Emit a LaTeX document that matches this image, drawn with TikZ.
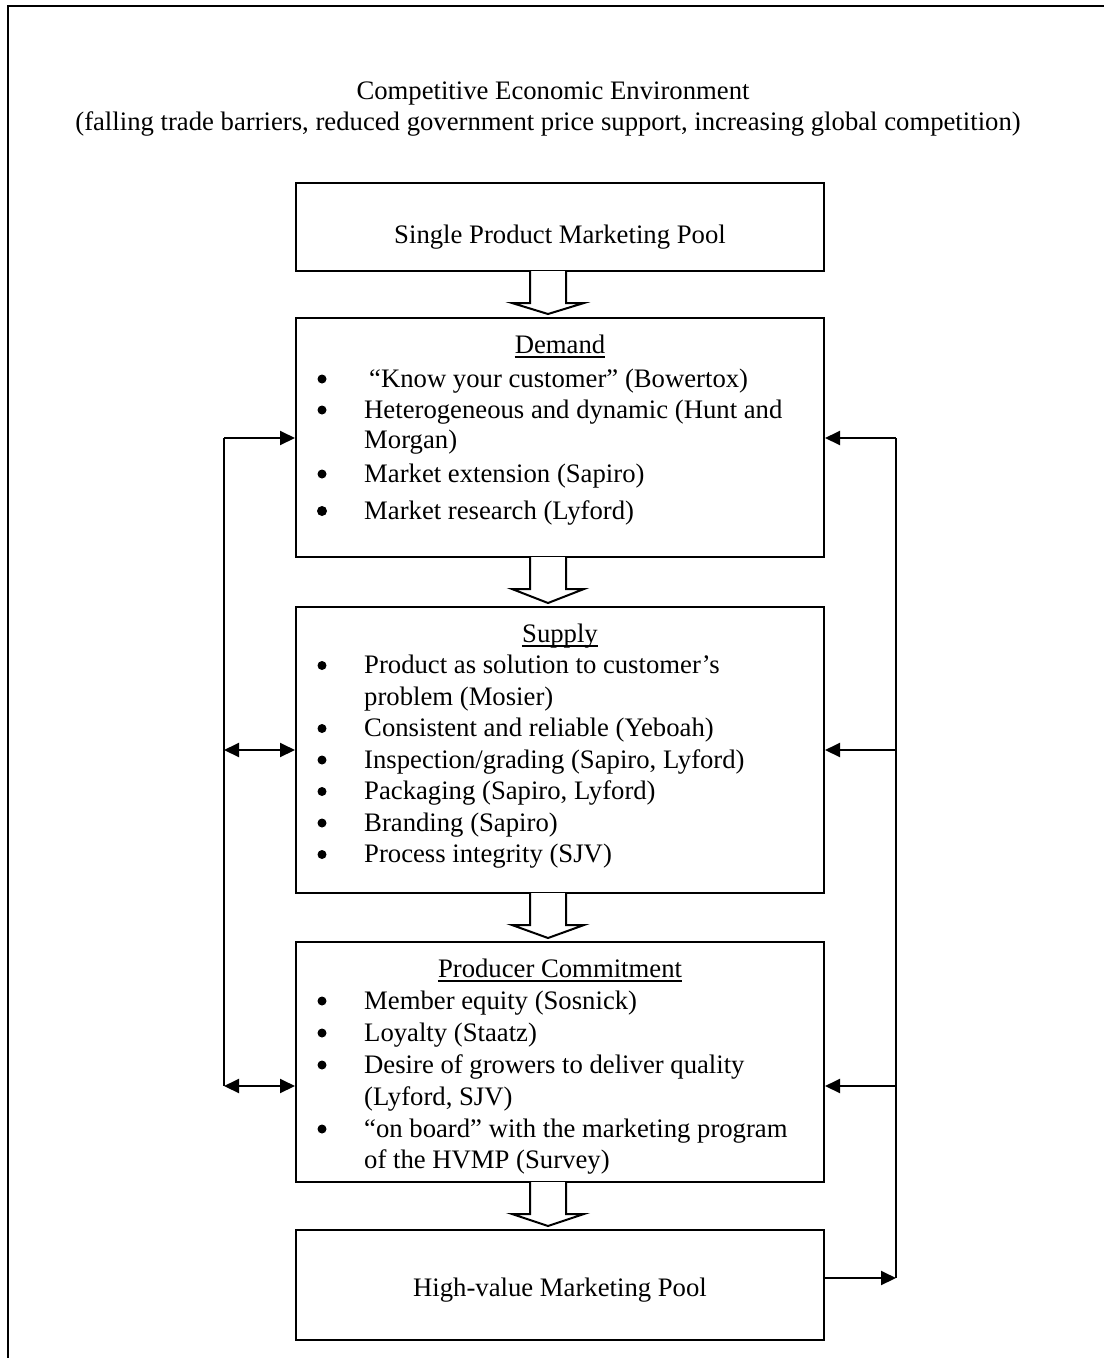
\documentclass[tikz,border=0pt]{standalone}
\usepackage{fontspec}
\setmainfont{Liberation Serif}
\usetikzlibrary{arrows.meta}
\newcommand{\bigfont}{\fontsize{26.7}{31.3}\selectfont}
\begin{document}
\begin{tikzpicture}[x=1pt,y=-1pt,
  frame/.style={line width=2pt},
  box/.style={draw, line width=2pt, inner sep=0pt, minimum width=528pt},
  txt/.style={anchor=base west, inner sep=0pt, font=\bigfont},
  ctxt/.style={anchor=base, inner sep=0pt, font=\bigfont},
  bul/.style={circle, fill=black, inner sep=0pt, minimum size=9pt, yshift=8pt},
  ul/.style={line width=1.3pt},
  conn/.style={line width=2pt},
  tip/.style={-{Triangle[length=15pt,width=14pt]}},
  dtip/.style={{Triangle[length=15pt,width=14pt]}-{Triangle[length=15pt,width=14pt]}},
  hollow/.style={draw, line width=2pt, fill=white, line join=miter}]
\useasboundingbox (0,0) rectangle (1104,1358);
\draw[frame] (8,1358) -- (8,6) -- (1104,6);

% title
\node[ctxt] (t1) at (553,99) {Competitive Economic Environment};
\node[ctxt] (t2) at (548,130) {(falling trade barriers, reduced government price support, increasing global competition)};

% boxes
\node[box, minimum height=88pt] (b1) at (560,227) {};
\node[box, minimum height=239pt] (b2) at (560,437.5) {};
\node[box, minimum height=286pt] (b3) at (560,750) {};
\node[box, minimum height=240pt] (b4) at (560,1062) {};
\node[box, minimum height=110pt] (b5) at (560,1285) {};

% box 1 / box 5 texts
\node[ctxt] (s1) at (560,243) {Single Product Marketing Pool};
\node[ctxt] (s5) at (560,1296) {High-value Marketing Pool};

% hollow arrows
\foreach \ya/\yb in {271/318, 557/607, 893/942, 1182/1230}{
  \draw[hollow] (530,\ya) -- (530,{\ya+32}) -- (512,{\ya+32}) -- (548,{\yb-4})
     -- (584,{\ya+32}) -- (566,{\ya+32}) -- (566,\ya);
}

% Demand
\node[ctxt] (dh) at (560,353) {Demand};
\draw[ul] ([yshift=-4pt]dh.base west) -- ([yshift=-4pt]dh.base east);
\node[bul] (db1) at (322,387) {};
\node[txt] (d1) at (369,387) {“Know your customer” (Bowertox)};
\node[bul] (db2) at (322,418) {};
\node[txt] (d2) at (364,418) {Heterogeneous and dynamic (Hunt and};
\node[txt] (d2b) at (364,448) {Morgan)};
\node[bul] (db3) at (322,482) {};
\node[txt] (d3) at (364,482) {Market extension (Sapiro)};
\node[bul, minimum size=10pt] (db4) at (322,519) {};
\node[txt] (d4) at (364,519) {Market research (Lyford)};

% Supply
\node[ctxt] (sh) at (560,642) {Supply};
\draw[ul] ([yshift=-4pt]sh.base west) -- ([yshift=-4pt]sh.base east);
\node[bul] (sb1) at (322,673.5) {};
\node[txt] (su1) at (364,673.5) {Product as solution to customer’s};
\node[txt] (su1b) at (364,705) {problem (Mosier)};
\node[bul] (sb2) at (322,736.5) {};
\node[txt] (su2) at (364,736.5) {Consistent and reliable (Yeboah)};
\node[bul] (sb3) at (322,768) {};
\node[txt] (su3) at (364,768) {Inspection/grading (Sapiro, Lyford)};
\node[bul] (sb4) at (322,799.5) {};
\node[txt] (su4) at (364,799.5) {Packaging (Sapiro, Lyford)};
\node[bul] (sb5) at (322,831) {};
\node[txt] (su5) at (364,831) {Branding (Sapiro)};
\node[bul] (sb6) at (322,862.5) {};
\node[txt] (su6) at (364,862.5) {Process integrity (SJV)};

% Producer Commitment
\node[ctxt] (ph) at (560,977) {Producer Commitment};
\draw[ul] ([yshift=-4pt]ph.base west) -- ([yshift=-4pt]ph.base east);
\node[bul] (pb1) at (322,1009) {};
\node[txt] (p1) at (364,1009) {Member equity (Sosnick)};
\node[bul] (pb2) at (322,1041) {};
\node[txt] (p2) at (364,1041) {Loyalty (Staatz)};
\node[bul] (pb3) at (322,1073) {};
\node[txt] (p3) at (364,1073) {Desire of growers to deliver quality};
\node[txt] (p3b) at (364,1105) {(Lyford, SJV)};
\node[bul] (pb4) at (322,1137) {};
\node[txt] (p4) at (364,1137) {“on board” with the marketing program};
\node[txt] (p4b) at (364,1168) {of the HVMP (Survey)};

% side connectors
\coordinate (l2) at (224,438);
\coordinate (l3) at (224,750);
\coordinate (l4) at (224,1086);
\coordinate (r2) at (896,438);
\coordinate (r3) at (896,750);
\coordinate (r4) at (896,1086);
\coordinate (r5) at (896,1278);

\draw[conn] (l2) -- (l4);
\draw[conn,tip] (l2) -- (l2 -| b2.west);
\draw[conn,dtip] (l3) -- (l3 -| b3.west);
\draw[conn,dtip] (l4) -- (l4 -| b4.west);

\draw[conn] (r2) -- (r5);
\draw[conn,tip] (r2) -- (r2 -| b2.east);
\draw[conn,tip] (r3) -- (r3 -| b3.east);
\draw[conn,tip] (r4) -- (r4 -| b4.east);
\draw[conn,tip] (r5 -| b5.east) -- (r5);
\end{tikzpicture}
\end{document}
